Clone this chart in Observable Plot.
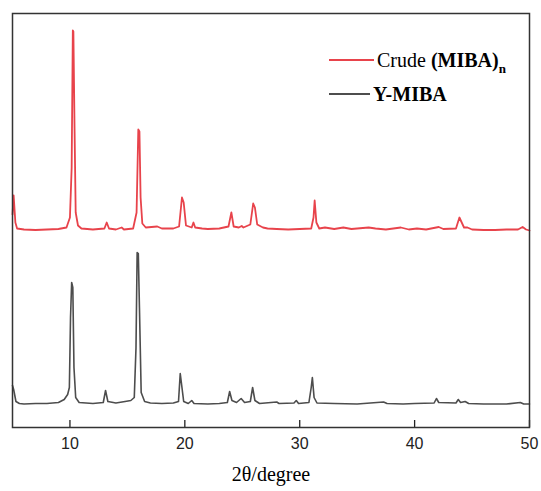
<!DOCTYPE html>
<html>
<head>
<meta charset="utf-8">
<script src="https://cdn.jsdelivr.net/npm/d3@7"></script>
<script src="https://cdn.jsdelivr.net/npm/@observablehq/plot@0.6"></script>
<style>
  html, body { margin: 0; padding: 0; background: #fff; }
  #wrap { position: relative; width: 541px; height: 491px; }
  #legend { position: absolute; left: 329px; top: 43px; font-family: "Liberation Serif", serif; font-size: 20px; color: #000; }
  .row { display: flex; align-items: center; height: 34px; }
  .sw { display: inline-block; height: 0; margin-right: 3px; }
  svg [aria-label="x-axis tick label"] text { font-family: "Liberation Sans", sans-serif; font-size: 16px; fill: #222; }
</style>
</head>
<body>
<div id="wrap">
  <div id="chart"></div>
  <div id="legend"></div>
</div>
<script>
// Series names and colours
const seriesNames = ["Crude (MIBA)n", "Y-MIBA"];
const seriesColors = ["#e8434b", "#4d4d4d"];
const xLabel = "2θ/degree";

// Crude (MIBA)n trace (offset upward in the figure), 2θ in degrees, intensity a.u.
const crudeX = [5.0, 5.1, 5.25, 5.4, 6, 7, 8, 9, 9.7, 10.0, 10.15, 10.25, 10.3, 10.4, 10.5, 10.7, 11, 12, 13.0, 13.2, 13.4, 14, 14.5, 14.7, 15.5, 15.8, 15.95, 16.05, 16.15, 16.3, 16.6, 17.6, 18, 19, 19.5, 19.75, 19.9, 20.1, 20.6, 20.75, 20.9, 21.5, 22, 23, 23.8, 24.05, 24.25, 24.7, 24.95, 25.1, 25.7, 25.95, 26.1, 26.3, 26.8, 27.2, 28, 29, 30, 31, 31.2, 31.3, 31.45, 31.7, 32.2, 33, 33.8, 34.5, 36, 36.6, 37.5, 38.8, 39.5, 40.2, 41, 42.1, 42.5, 43.6, 43.9, 44.1, 44.3, 44.6, 45, 46, 47, 48, 49, 49.4, 49.7, 50];
const crudeY = [213, 232, 205, 199, 198, 197.5, 198, 198.5, 200, 210, 260, 397, 396, 300, 215, 202, 199, 198, 199, 205, 199, 198, 200, 198, 199, 215, 298, 296, 230, 204, 200, 201, 199, 199, 201, 230, 225, 202, 200, 205, 200, 199, 198.5, 199, 201, 215, 201, 200, 201.5, 200, 203, 224, 220, 203, 200, 199, 198.5, 198, 198.5, 199, 210, 227, 205, 199, 200, 198.5, 200, 198.5, 200, 199, 198, 200, 198, 199, 198, 200.5, 198.5, 199, 210, 205, 200, 200, 198, 197.5, 197.5, 198, 198, 200.5, 198, 197];

// Y-MIBA trace
const yX = [5.0, 5.1, 5.3, 5.6, 6, 7, 8, 9, 9.5, 9.8, 9.95, 10.05, 10.15, 10.25, 10.35, 10.5, 10.8, 12, 12.9, 13.1, 13.3, 14, 14.8, 15.3, 15.6, 15.75, 15.85, 15.95, 16.05, 16.2, 16.5, 17, 18, 19, 19.45, 19.6, 19.75, 19.9, 20.3, 20.6, 20.8, 22, 23, 23.7, 23.9, 24.1, 24.5, 24.9, 25.2, 25.7, 25.9, 26.1, 26.5, 28, 28.2, 29.5, 29.7, 29.9, 30.8, 31.0, 31.1, 31.25, 31.5, 33, 35, 37.3, 37.6, 39, 40, 41.7, 41.9, 42.1, 43.6, 43.8, 44.0, 44.4, 44.7, 46, 48, 49.2, 49.5, 50];
const yY = [42, 38, 26, 24, 23.5, 24, 24, 25, 28, 33, 40, 110, 145, 140, 60, 30, 25, 24, 25, 37, 26, 24.5, 26, 27, 30, 80, 175, 174, 120, 35, 26, 24.5, 24, 24.5, 26, 54, 40, 26, 24, 27, 24, 23.5, 24, 25, 36, 27, 25, 29, 25, 26, 40, 27, 24, 25.5, 24, 24.5, 27, 24, 25, 40, 50, 30, 24.5, 24, 23.5, 25.5, 24, 23.5, 24, 24.5, 29, 25, 24.5, 28, 25, 26, 24, 23.5, 23.5, 25, 23.5, 23.5];

// Axis ticks
const xTicks = [10, 20, 30, 40, 50];

const crude = crudeX.map((x, i) => ({x, y: crudeY[i]}));
const ymiba = yX.map((x, i) => ({x, y: yY[i]}));

const chart = Plot.plot({
  width: 541,
  height: 491,
  marginLeft: 12,
  marginRight: 12,
  marginTop: 13,
  marginBottom: 64,
  style: {background: "#fff", color: "#000"},
  x: {domain: [5, 50]},
  y: {domain: [0, 414], axis: null},
  marks: [
    Plot.line(crude, {x: "x", y: "y", stroke: seriesColors[0], strokeWidth: 1.8}),
    Plot.line(ymiba, {x: "x", y: "y", stroke: seriesColors[1], strokeWidth: 1.6}),
    Plot.axisX({ticks: xTicks, tickSize: -7, tickPadding: 17, label: null, stroke: "#222", strokeWidth: 1.3}),
    Plot.text([xLabel], {frameAnchor: "bottom", dy: 47, text: d => d, fill: "#000", lineAnchor: "middle"}),
    Plot.frame({stroke: "#333", strokeWidth: 1.5})
  ]
});
document.getElementById("chart").appendChild(chart);
// serif axis title (inline style)
chart.querySelectorAll("text").forEach(t => {
  if (t.textContent === xLabel) {
    t.style.fontFamily = "'Liberation Serif', serif";
    t.style.fontSize = "20px";
  }
});

// Legend
const legend = document.getElementById("legend");
const rows = [
  {color: seriesColors[0], w: 45, html: 'Crude <b>(MIBA)</b><b style="font-size:13px;position:relative;top:6px">n</b>'},
  {color: seriesColors[1], w: 41, html: '<b>Y-MIBA</b>'}
];
rows.forEach(r => {
  const row = document.createElement("div");
  row.className = "row";
  const sw = document.createElement("span");
  sw.className = "sw";
  sw.style.width = r.w + "px";
  sw.style.borderTop = "2px solid " + r.color;
  const t = document.createElement("span");
  t.innerHTML = r.html;
  row.appendChild(sw);
  row.appendChild(t);
  legend.appendChild(row);
});
</script>
</body>
</html>
